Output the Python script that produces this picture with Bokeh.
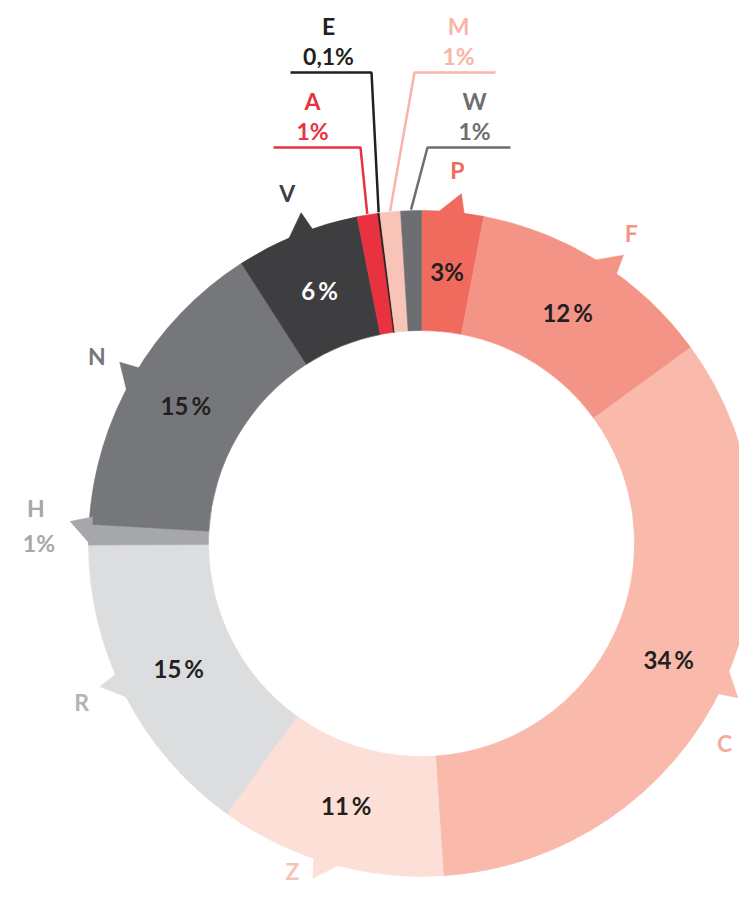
import math
import numpy as np
from bokeh.plotting import figure
from bokeh.models import Range1d, ColumnDataSource
from bokeh.core.properties import value
from bokeh.embed import file_html
from bokeh.resources import INLINE

# ---- data ----
categories = ["P", "F", "C", "Z", "R", "H", "N", "V", "A", "E", "M", "W"]
values = [3, 12, 34, 11, 15, 1, 15, 6, 1, 0.1, 1, 1]
pct_labels = ["3%", "12\u2009%", "34\u2009%", "11\u2009%", "15\u2009%", "1%",
              "15\u2009%", "6\u2009%", "1%", "0,1%", "1%", "1%"]

# ---- style / layout ----
colors = ["#f06a5e", "#f49487", "#f9b9ab", "#fcdfd6", "#dcdddf", "#a6a7aa",
          "#76777a", "#3e3e40", "#e8323f", "#231f20", "#f9c4b8", "#6d6e71"]
label_colors = {"P": "#f06a5e", "F": "#f49487", "C": "#f6ab9d", "Z": "#f7c4b6",
                "R": "#b3b4b7", "H": "#a6a7aa", "N": "#76777a", "V": "#3e3e40",
                "A": "#e8323f", "E": "#231f20", "M": "#f9b5a8", "W": "#6d6e71"}
CX, CY = 421, -543
RI, RO = 213, 333
FONT = value("Lato")

# pointer (notch) angles, degrees clockwise from top, for the big segments
pointer_angle = {"P": 5.5, "F": 34, "C": 115, "Z": 197, "R": 245, "H": 272.6, "N": 300, "V": 339}
# outside label position overrides (kept inside the frame)
label_override = {"C": (724, -742), "Z": (292, -870)}
# leader-line callouts for tiny segments: elbow (x, y), end x, text x
callouts = {"A": (360, -147, 273, 312), "E": (371, -72, 290, 328),
            "M": (414, -72, 495, 458), "W": (427, -147, 510, 474)}


def polar(a_deg, r):
    a = math.radians(a_deg)
    return CX + r * math.sin(a), CY + r * math.cos(a)


total = sum(values)
fr = np.array(values) / total
cum_end = np.cumsum(fr)
cum_start = cum_end - fr
start_ang = np.pi / 2 - 2 * np.pi * cum_start
end_ang = np.pi / 2 - 2 * np.pi * cum_end
mid_deg = (cum_start + fr / 2) * 360

p = figure(width=739, height=894, x_range=Range1d(0, 739), y_range=Range1d(-894, 0),
           output_backend="svg", toolbar_location=None, min_border=0)
p.axis.visible = False
p.grid.visible = False
p.outline_line_color = None
p.background_fill_color = "white"

src = ColumnDataSource(dict(cat=categories, start=start_ang, end=end_ang, color=colors))
p.annular_wedge(x=CX, y=CY, inner_radius=RI, outer_radius=RO, start_angle="start",
                end_angle="end", direction="clock", fill_color="color", line_color="color",
                line_width=0.6, source=src)

# notches
nx, ny, nc = [], [], []
for i, c in enumerate(categories):
    if c in pointer_angle:
        a = pointer_angle[c]
        p1 = polar(a - 3.0, RO - 3)
        p2 = polar(a + 2.0, RO - 3)
        tip = polar(a + 1.0, RO + 19)
        nx.append([p1[0], tip[0], p2[0]])
        ny.append([p1[1], tip[1], p2[1]])
        nc.append(colors[i])
p.patches(xs=nx, ys=ny, fill_color=nc, line_color=nc, line_width=0.6)

# inside percentage labels
ix, iy, it, icol = [], [], [], []
for i, c in enumerate(categories):
    if c in pointer_angle and c != "H":
        x, y = polar(mid_deg[i], 273)
        ix.append(x); iy.append(y); it.append(pct_labels[i])
        icol.append("white" if c == "V" else "#231f20")
p.text(x=ix, y=iy, text=it, text_color=icol, text_font=FONT, text_font_style="bold",
       text_font_size="24px", text_align="center", text_baseline="middle")

# outside category labels
ox, oy, ot, oc = [], [], [], []
for c in categories:
    if c in pointer_angle and c != "H":
        x, y = label_override.get(c, polar(pointer_angle[c], 375))
        ox.append(x); oy.append(y); ot.append(c); oc.append(label_colors[c])
p.text(x=ox, y=oy, text=ot, text_color=oc, text_font=FONT, text_font_style="bold",
       text_font_size="23px", text_align="center", text_baseline="middle")

# H label (two lines)
hi = categories.index("H")
hx, hy = polar(pointer_angle["H"], 384)
p.text(x=[hx - 2, hx + 1], y=[hy + 18, hy - 17], text=["H", pct_labels[hi]],
       text_color=label_colors["H"], text_font=FONT, text_font_style="bold",
       text_font_size="23px", text_align="center", text_baseline="middle")

# callouts
for c, (ex, ey, endx, tx) in callouts.items():
    i = categories.index(c)
    sx, sy = polar(mid_deg[i], RO + 1)
    p.line(x=[sx, ex, endx], y=[sy, ey, ey], line_color=label_colors[c], line_width=2.5)
    p.text(x=[tx, tx], y=[ey + 47, ey + 17], text=[c, pct_labels[i]],
           text_color=label_colors[c], text_font=FONT, text_font_style="bold",
           text_font_size="23px", text_align="center", text_baseline="middle")

open("out.html", "w").write(file_html(p, INLINE))
